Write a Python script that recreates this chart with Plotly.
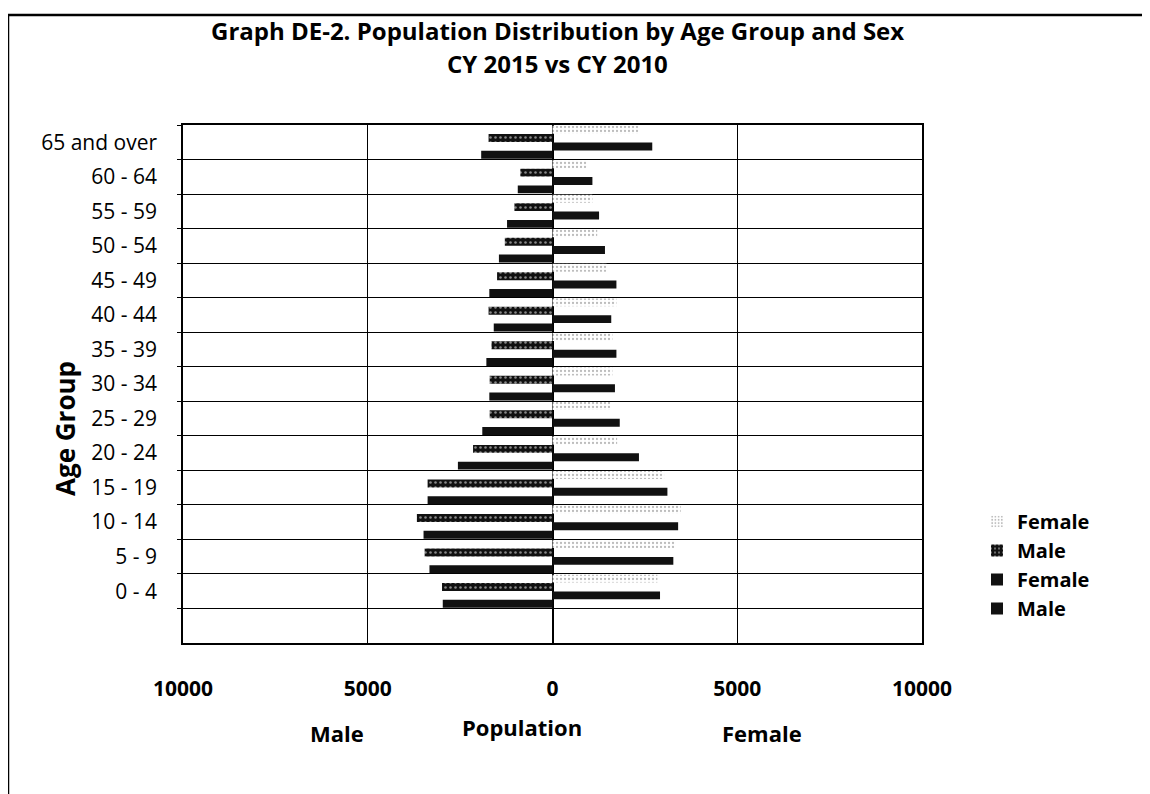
import plotly.graph_objects as go

age_groups = ["0 - 4", "5 - 9", "10 - 14", "15 - 19", "20 - 24", "25 - 29", "30 - 34",
              "35 - 39", "40 - 44", "45 - 49", "50 - 54", "55 - 59", "60 - 64", "65 and over"]

male_dark = [2970, 3330, 3490, 3380, 2560, 1900, 1710, 1790, 1590, 1710, 1450, 1230, 940, 1930]
female_dark = [2910, 3270, 3400, 3110, 2340, 1820, 1690, 1730, 1590, 1730, 1420, 1260, 1080, 2700]
male_hatched = [2990, 3460, 3670, 3380, 2150, 1700, 1700, 1650, 1730, 1500, 1290, 1030, 870, 1730]
female_light = [2840, 3330, 3470, 3020, 1750, 1570, 1620, 1620, 1730, 1460, 1210, 1080, 940, 2340]

x_tickvals = [-10000, -5000, 0, 5000, 10000]
x_ticktext = ["10000", "5000", "0", "5000", "10000"]

FONT = "Open Sans"
DARK = "#111111"
OFF = 8  # page body margin

# page-pixel geometry of plot area
PL, PR, PT, PB = 183, 922, 125, 643
PW, PH = PR - PL, PB - PT


def px_to_paper(x, y):
    return (x - PL) / PW, (PB - y) / PH


fig = go.Figure()
fig.add_trace(go.Bar(name="Male", y=age_groups, x=[-v for v in male_dark], orientation="h",
                     marker=dict(color=DARK, line=dict(width=0))))
fig.add_trace(go.Bar(name="Female", y=age_groups, x=female_dark, orientation="h",
                     marker=dict(color=DARK, line=dict(width=0))))
fig.add_trace(go.Bar(name="Male", y=age_groups, x=[-v for v in male_hatched], orientation="h",
                     marker=dict(color=DARK, line=dict(width=0),
                                 pattern=dict(shape=".", bgcolor=DARK, fgcolor="white",
                                              size=5, solidity=0.2))))
fig.add_trace(go.Bar(name="Female", y=age_groups, x=female_light, orientation="h",
                     marker=dict(color="white", line=dict(width=0),
                                 pattern=dict(shape=".", bgcolor="white", fgcolor="#777777",
                                              size=4, solidity=0.25))))

W, H = 1150 - OFF, 794 - OFF
lx, ly = px_to_paper(977, 502)
fig.update_layout(
    width=W, height=H,
    paper_bgcolor="white", plot_bgcolor="white",
    margin=dict(l=PL - OFF, r=W - (PR - OFF), t=PT - OFF, b=H - (PB - OFF)),
    barmode="group", bargap=0.03, bargroupgap=0.05,
    font=dict(family=FONT, color="black"),
    showlegend=True,
    legend=dict(x=lx, xanchor="left", y=ly, yanchor="top", traceorder="reversed",
                font=dict(family=FONT, size=20, color="black", weight="bold"),
                bgcolor="rgba(0,0,0,0)", itemwidth=30, tracegroupgap=0),
    xaxis=dict(range=[-10000, 10000], tickvals=x_tickvals, ticktext=x_ticktext,
               showgrid=True, gridcolor="black", gridwidth=1,
               zeroline=True, zerolinecolor="black", zerolinewidth=2,
               showline=True, linecolor="black", linewidth=1.5, mirror=True,
               ticks="", ticklabelstandoff=26,
               tickfont=dict(family=FONT, size=21, color="black", weight="bold")),
    yaxis=dict(type="category", categoryorder="array", categoryarray=age_groups,
               range=[-1.5, 13.5], tickson="boundaries",
               showgrid=True, gridcolor="black", gridwidth=1.2,
               showline=True, linecolor="black", linewidth=1.5, mirror=True,
               ticks="outside", ticklen=4, tickcolor="black", ticklabelstandoff=20,
               tickfont=dict(family=FONT, size=21, color="black")),
)

titles = [("<b>Graph DE-2. Population Distribution by Age Group and Sex</b>", 557, 30),
          ("<b>CY 2015 vs CY 2010</b>", 557, 63)]
for t, px, py in titles:
    ax_, ay_ = px_to_paper(px, py)
    fig.add_annotation(text=t, xref="paper", yref="paper", x=ax_, y=ay_,
                       xanchor="center", yanchor="middle", showarrow=False,
                       font=dict(family=FONT, size=24, color="black"))

labels = [("Male", 337, 733), ("Population", 522, 727), ("Female", 762, 733)]
for t, px, py in labels:
    ax_, ay_ = px_to_paper(px, py)
    fig.add_annotation(text="<b>%s</b>" % t, xref="paper", yref="paper", x=ax_, y=ay_,
                       xanchor="center", yanchor="middle", showarrow=False,
                       font=dict(family=FONT, size=22, color="black"))

ax_, ay_ = px_to_paper(65, 429)
fig.add_annotation(text="<b>Age Group</b>", xref="paper", yref="paper", x=ax_, y=ay_,
                   textangle=-90, xanchor="center", yanchor="middle", showarrow=False,
                   font=dict(family=FONT, size=26, color="black"))

x0, y1 = px_to_paper(8, 15)
x1, y0 = px_to_paper(1147, 810)
fig.add_shape(type="rect", xref="paper", yref="paper", x0=x0, x1=x1, y0=y0, y1=y1,
              line=dict(color="black", width=2.5), fillcolor="rgba(0,0,0,0)", layer="above")

fig.write_html("out.html")
